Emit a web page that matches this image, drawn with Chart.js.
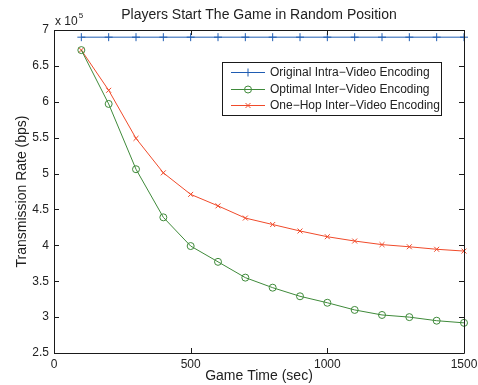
<!DOCTYPE html>
<html>
<head>
<meta charset="utf-8">
<script src="https://cdn.jsdelivr.net/npm/chart.js@4"></script>
<style>
  html, body { margin: 0; padding: 0; background: #fff; }
  #wrap { width: 478px; height: 385px; }
</style>
</head>
<body>
<div id="wrap"><canvas id="c" width="478" height="385"></canvas></div>
<script>
// Game time (sec) at each measurement
const gameTime = [100, 200, 300, 400, 500, 600, 700, 800, 900, 1000, 1100, 1200, 1300, 1400, 1500];

// Transmission rate (bps) per scheme
const intraRate   = [690000, 690000, 690000, 690000, 690000, 690000, 690000, 690000, 690000, 690000, 690000, 690000, 690000, 690000, 690000];
const optimalRate = [672000, 597000, 506000, 439000, 399000, 377000, 355000, 341000, 329000, 320000, 310000, 303000, 300000, 295000, 292000];
const oneHopRate  = [672000, 616000, 549000, 501000, 471000, 455000, 438000, 429000, 420000, 412000, 406000, 401000, 398000, 394500, 392000];

// Axis ticks
const xTicks = [0, 500, 1000, 1500];
const yTicks = [250000, 300000, 350000, 400000, 450000, 500000, 550000, 600000, 650000, 700000];

const seriesNames = ['Original Intra\u2212Video Encoding', 'Optimal Inter\u2212Video Encoding', 'One\u2212Hop Inter\u2212Video Encoding'];
const chartTitle = 'Players Start The Game in Random Position';

const FONT = '"Liberation Sans", Arial, Helvetica, sans-serif';
const BLUE = '#1f5cb2', GREEN = '#3f8a3a', RED = '#f04a2a';

const toPoints = ys => gameTime.map((x, i) => ({ x, y: ys[i] }));

// Box frame, inward ticks, title, exponent label and legend in MATLAB style
const matlabFrame = {
  id: 'matlabFrame',
  afterDraw(chart) {
    const { ctx, chartArea: a, scales } = chart;
    const xs = scales.x, ys = scales.y;
    ctx.save();
    ctx.strokeStyle = '#1a1a1a';
    ctx.lineWidth = 1;
    ctx.beginPath();
    ctx.rect(Math.round(a.left) + 0.5, Math.round(a.top) + 0.5, Math.round(a.right - a.left), Math.round(a.bottom - a.top));
    ctx.stroke();

    const tl = 5;
    ctx.beginPath();
    xTicks.forEach(v => {
      const px = Math.round(xs.getPixelForValue(v)) + 0.5;
      ctx.moveTo(px, a.bottom); ctx.lineTo(px, a.bottom - tl);
      ctx.moveTo(px, a.top); ctx.lineTo(px, a.top + tl);
    });
    yTicks.forEach(v => {
      const py = Math.round(ys.getPixelForValue(v)) + 0.5;
      ctx.moveTo(a.left, py); ctx.lineTo(a.left + tl, py);
      ctx.moveTo(a.right, py); ctx.lineTo(a.right - tl, py);
    });
    ctx.stroke();

    // title
    ctx.fillStyle = '#222';
    ctx.font = '14px ' + FONT;
    ctx.textAlign = 'center';
    ctx.textBaseline = 'middle';
    ctx.fillText(chartTitle, (a.left + a.right) / 2, 15);

    // exponent label
    ctx.textAlign = 'left';
    ctx.font = '12px ' + FONT;
    ctx.fillText('x 10', a.left + 1, 22);
    const w = ctx.measureText('x 10').width;
    ctx.font = '8px ' + FONT;
    ctx.fillText('5', a.left + 2 + w, 16);

    // legend
    const lx = 222, ly = 62, lw = 219, lh = 53;
    ctx.fillStyle = '#fff';
    ctx.fillRect(lx, ly, lw, lh);
    ctx.strokeStyle = '#1a1a1a';
    ctx.strokeRect(lx + 0.5, ly + 0.5, lw, lh);
    const rows = [72, 89, 105];
    chart.data.datasets.forEach((ds, i) => {
      const y = rows[i] + 0.5;
      ctx.strokeStyle = ds.borderColor;
      ctx.lineWidth = 1;
      ctx.beginPath();
      ctx.moveTo(231, y); ctx.lineTo(265, y);
      ctx.stroke();
      const mx = 248;
      const r = ds.pointRadius;
      ctx.beginPath();
      if (ds.pointStyle === 'cross') {
        ctx.moveTo(mx - r, y); ctx.lineTo(mx + r, y);
        ctx.moveTo(mx, y - r); ctx.lineTo(mx, y + r);
      } else if (ds.pointStyle === 'crossRot') {
        const d = r * 0.7071;
        ctx.moveTo(mx - d, y - d); ctx.lineTo(mx + d, y + d);
        ctx.moveTo(mx - d, y + d); ctx.lineTo(mx + d, y - d);
      } else {
        ctx.arc(mx, y, r, 0, Math.PI * 2);
      }
      ctx.stroke();
      ctx.fillStyle = '#222';
      ctx.font = '12px ' + FONT;
      ctx.textAlign = 'left';
      ctx.textBaseline = 'middle';
      ctx.fillText(ds.label, 270, y);
    });
    ctx.restore();
  }
};

const seriesStyle = (color, style, r) => ({
  borderColor: color,
  backgroundColor: 'rgba(0,0,0,0)',
  pointBorderColor: color,
  pointBackgroundColor: 'rgba(0,0,0,0)',
  pointStyle: style,
  pointRadius: r,
  pointBorderWidth: 1,
  borderWidth: 1,
  tension: 0,
  clip: false
});

new Chart(document.getElementById('c'), {
  type: 'line',
  data: {
    datasets: [
      Object.assign({ label: seriesNames[0], data: toPoints(intraRate) }, seriesStyle(BLUE, 'cross', 4)),
      Object.assign({ label: seriesNames[1], data: toPoints(optimalRate) }, seriesStyle(GREEN, 'circle', 3.5)),
      Object.assign({ label: seriesNames[2], data: toPoints(oneHopRate) }, seriesStyle(RED, 'crossRot', 3.5))
    ]
  },
  options: {
    responsive: false,
    animation: false,
    devicePixelRatio: 1,
    layout: { padding: { top: 30, right: 14, left: 0, bottom: 0 } },
    plugins: {
      legend: { display: false },
      title: { display: false },
      tooltip: { enabled: false }
    },
    scales: {
      x: {
        type: 'linear',
        min: 0, max: 1500,
        afterBuildTicks: s => { s.ticks = xTicks.map(v => ({ value: v })); },
        afterFit: s => { s.height = 32; s.paddingRight = 0; s.paddingLeft = 0; },
        grid: { display: false, drawTicks: false },
        border: { display: false },
        ticks: { color: '#222', font: { family: FONT, size: 12 }, padding: 4, maxRotation: 0, autoSkip: false,
                 callback: v => String(v) },
        title: { display: true, text: 'Game Time (sec)', color: '#222', font: { family: FONT, size: 14 }, padding: { top: 0, bottom: 0 } }
      },
      y: {
        type: 'linear',
        min: 250000, max: 700000,
        afterBuildTicks: s => { s.ticks = yTicks.map(v => ({ value: v })); },
        afterFit: s => { s.width = 54; },
        grid: { display: false, drawTicks: false },
        border: { display: false },
        ticks: { color: '#222', font: { family: FONT, size: 12 }, padding: 5, autoSkip: false,
                 callback: v => String(Number((v / 1e5).toFixed(1))) },
        title: { display: true, text: 'Transmission Rate (bps)', color: '#222', font: { family: FONT, size: 14 }, padding: { top: 14, bottom: 0 } }
      }
    }
  },
  plugins: [matlabFrame]
});
</script>
</body>
</html>
